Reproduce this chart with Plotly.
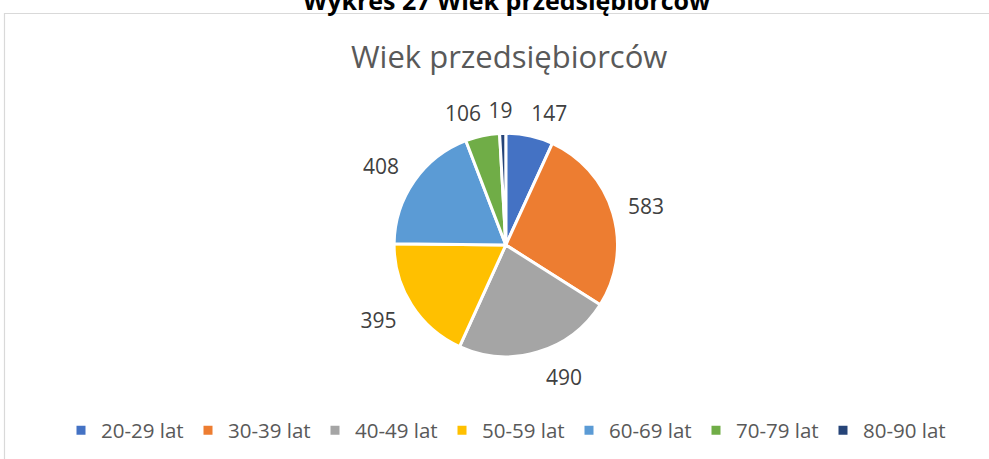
import math
import plotly.graph_objects as go

categories = ["20-29 lat", "30-39 lat", "40-49 lat", "50-59 lat", "60-69 lat", "70-79 lat", "80-90 lat"]
values = [147, 583, 490, 395, 408, 106, 19]
colors = ["#4472C4", "#ED7D31", "#A5A5A5", "#FFC000", "#5B9BD5", "#70AD47", "#264478"]

W, H = 989, 459
cx, cy, R = 505.8, 245.0, 111.7   # pie centre / radius in px

# ---- outside-end data label placement (computed from the values) ----
total = sum(values)
lab_x, lab_y, lab_t = [], [], []
cum = 0
for v in values:
    th = math.radians((cum + v / 2) / total * 360)  # clockwise from 12 o'clock
    cum += v
    s, c = math.sin(th), math.cos(th)
    hw = 15 + 6 * len(str(v))
    hh = 24
    ox = hw * max(-1, min(1, 2.8 * s))
    oy = hh * max(-1, min(1, 1.15 * c)) - 3.5
    lab_x.append(s + ox / R)
    lab_y.append(c + oy / R)
    lab_t.append(str(v))

fig = go.Figure()
fig.add_trace(go.Pie(
    labels=categories,
    values=values,
    sort=False,
    direction="clockwise",
    rotation=0,
    marker=dict(colors=colors, line=dict(color="white", width=3)),
    textinfo="none",
    showlegend=True,
    domain=dict(x=[(cx - R) / W, (cx + R) / W], y=[(H - cy - R) / H, (H - cy + R) / H]),
))
fig.add_trace(go.Scatter(
    x=lab_x, y=lab_y, text=lab_t, mode="text", textposition="middle center",
    textfont=dict(size=21, color="#404040", family="Open Sans"),
    showlegend=False, hoverinfo="skip", cliponaxis=False,
))

fig.update_layout(
    width=W, height=H,
    margin=dict(l=0, r=0, t=0, b=0),
    paper_bgcolor="white", plot_bgcolor="rgba(0,0,0,0)",
    font=dict(family="Open Sans", color="#595959"),
    xaxis=dict(range=[-cx / R, (W - cx) / R], visible=False, fixedrange=True, domain=[0, 1]),
    yaxis=dict(range=[-(H - cy) / R, cy / R], visible=False, fixedrange=True, domain=[0, 1]),
    legend=dict(orientation="h", x=61 / W, xanchor="left", y=(H - 430.5) / H, yanchor="middle",
                font=dict(size=20.5, color="#595959"), itemwidth=30, tracegroupgap=0,
                entrywidth=82, entrywidthmode="pixels"),
    annotations=[
        dict(text="Wiek przedsiębiorców", x=508.5 / W, y=(H - 56) / H, xref="paper", yref="paper",
             showarrow=False, font=dict(size=31, color="#595959", family="Open Sans"),
             xanchor="center", yanchor="middle"),
        dict(text="<b>Wykres 27 Wiek przedsiębiorców</b>", x=507 / W, y=1.0, xref="paper", yref="paper",
             showarrow=False, font=dict(size=25, color="black", family="Open Sans"),
             xanchor="center", yanchor="middle"),
    ],
    shapes=[dict(type="rect", xref="paper", yref="paper", x0=4.5 / W, x1=1.2, y0=-0.2, y1=(H - 13.5) / H,
                 line=dict(color="#D9D9D9", width=1.2), fillcolor="rgba(0,0,0,0)", layer="below")],
)

fig.write_html("out.html", config={"displayModeBar": False},
               post_script="document.body.style.margin='0';")
